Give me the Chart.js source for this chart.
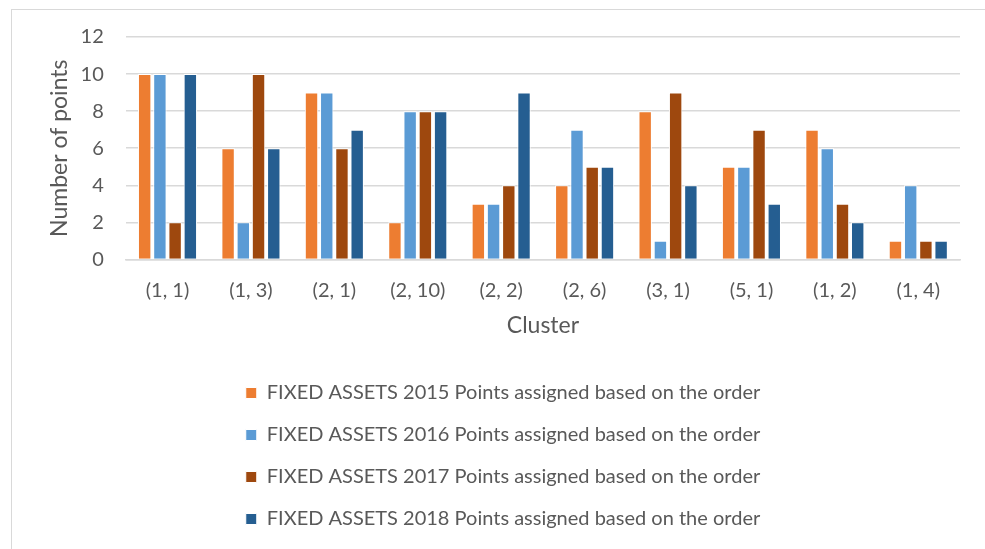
<!DOCTYPE html>
<html>
<head>
<meta charset="utf-8">
<script src="https://cdn.jsdelivr.net/npm/chart.js@4/dist/chart.umd.min.js"></script>
<style>
  html, body { margin: 0; padding: 0; background: #fff; overflow: hidden; }
  #wrap { position: relative; width: 985px; height: 549px; }
  #frame { position: absolute; left: 11px; top: 9px; width: 1100px; height: 700px; border: 1.5px solid #d9d9d9; box-sizing: border-box; }
  canvas { position: absolute; left: 0; top: 0; }
</style>
</head>
<body>
<div id="wrap">
  <div id="frame"></div>
  <canvas id="c" width="985" height="549"></canvas>
</div>
<script>
const categories = ["(1, 1)", "(1, 3)", "(2, 1)", "(2, 10)", "(2, 2)", "(2, 6)", "(3, 1)", "(5, 1)", "(1, 2)", "(1, 4)"];
const seriesNames = [
  "FIXED ASSETS 2015 Points assigned based on the order",
  "FIXED ASSETS 2016 Points assigned based on the order",
  "FIXED ASSETS 2017 Points assigned based on the order",
  "FIXED ASSETS 2018 Points assigned based on the order"
];
const values2015 = [10, 6, 9, 2, 3, 4, 8, 5, 7, 1];
const values2016 = [10, 2, 9, 8, 3, 7, 1, 5, 6, 4];
const values2017 = [2, 10, 6, 8, 4, 5, 9, 7, 3, 1];
const values2018 = [10, 6, 7, 8, 9, 5, 4, 3, 2, 1];
const yTicks = [0, 2, 4, 6, 8, 10, 12];
const colors = ["#ED7D31", "#5B9BD5", "#9E480E", "#255E91"];

const FONT = "Lato, 'Open Sans', sans-serif";
const TXT = "#595959";

const data = {
  labels: categories,
  datasets: [values2015, values2016, values2017, values2018].map((v, i) => ({
    label: seriesNames[i],
    data: v,
    backgroundColor: colors[i],
    borderColor: "#ffffff",
    borderWidth: 1,
    categoryPercentage: 0.73,
    barPercentage: 0.88
  }))
};

new Chart(document.getElementById("c"), {
  type: "bar",
  data,
  options: {
    responsive: false,
    animation: false,
    devicePixelRatio: 1,
    layout: { padding: { left: 46, right: 25, top: 37, bottom: 10 } },
    plugins: {
      tooltip: { enabled: false },
      legend: {
        position: "bottom",
        align: "center",
        labels: {
          boxWidth: 11,
          boxHeight: 11,
          padding: 22,
          color: TXT,
          font: { family: FONT, size: 20 }
        }
      }
    },
    scales: {
      x: {
        grid: { display: false, drawTicks: false },
        border: { display: true, color: "#d9d9d9", width: 1.5 },
        ticks: { color: TXT, font: { family: FONT, size: 20 }, padding: 19, maxRotation: 0 },
        title: { display: true, text: "Cluster", color: TXT, font: { family: FONT, size: 23 }, padding: { top: -10, bottom: 22 } }
      },
      y: {
        min: 0,
        max: 12,
        afterBuildTicks: (axis) => { axis.ticks = yTicks.map(v => ({ value: v })); },
        grid: { color: "#d9d9d9", lineWidth: 1.5, drawTicks: false },
        border: { display: false },
        ticks: { color: TXT, font: { family: FONT, size: 20 }, padding: 22 },
        title: { display: true, text: "Number of points", color: TXT, font: { family: FONT, size: 23 }, padding: { top: 0, bottom: -15 } }
      }
    }
  }
});
</script>
</body>
</html>
